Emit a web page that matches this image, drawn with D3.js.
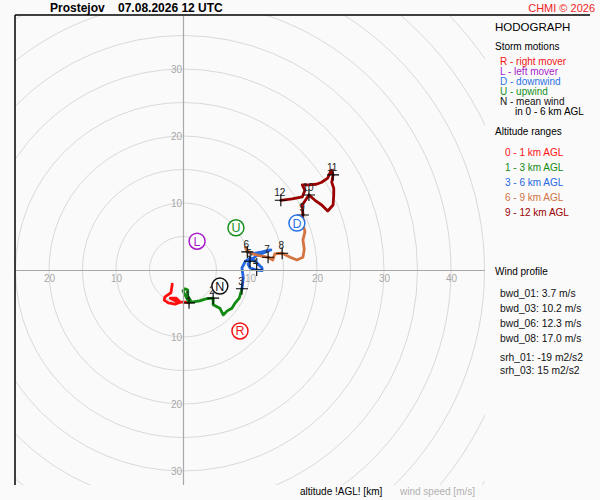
<!DOCTYPE html>
<html>
<head>
<meta charset="utf-8">
<script src="https://cdn.jsdelivr.net/npm/d3@7"></script>
<style>
  body { margin: 0; background: #fafafa; }
  svg { font-family: "Liberation Sans", Arial, sans-serif; display: block; }
</style>
</head>
<body>
<div class="hodo"></div>
<script>
// hodograph traces, [u, v] in m/s, one array per altitude range
const layer0_1 = [[-1.6,-2.1],[-1.8,-3.4],[-2.7,-4.0],[-2.8,-4.5],[-2.2,-4.9],[-1.2,-5.1],[-0.4,-4.8],[-1.0,-4.2],[-1.9,-4.2],[-0.7,-4.8],[0.3,-4.8],[0.9,-4.9]];
const layer1_3 = [[0.9,-4.9],[0.4,-3.9],[0.0,-3.1],[0.3,-2.8],[0.7,-3.0],[0.7,-3.9],[1.3,-4.8],[2.5,-4.6],[3.4,-4.3],[4.5,-4.2],[4.5,-5.2],[5.5,-5.7],[6.0,-6.7],[6.6,-6.1],[7.3,-5.7],[7.8,-4.9],[8.4,-4.2],[8.8,-2.8]];
const layer3_6 = [[8.8,-2.8],[9.0,-1.2],[8.8,0.3],[9.3,1.3],[10.1,1.8],[10.9,1.2],[11.8,0.3],[11.8,-0.1],[11.0,0.0],[10.0,0.3],[9.7,0.9],[10.0,1.3],[10.9,2.1],[11.9,2.5],[13.1,3.0],[11.8,2.7],[10.3,2.4],[9.6,2.7]];
const layer6_9 = [[9.6,2.7],[9.3,3.4],[10.0,2.5],[11.2,2.2],[12.7,1.9],[13.4,1.5],[13.7,2.4],[14.8,2.5],[16.0,1.9],[17.0,1.5],[17.9,1.9],[18.1,3.1],[17.9,4.5],[18.2,5.7],[17.9,6.9],[17.9,8.2]];
const layer9_12 = [[17.9,8.2],[17.8,9.7],[18.4,10.6],[18.8,11.2],[19.7,10.4],[20.7,9.7],[21.6,8.8],[22.4,9.7],[22.5,11.2],[22.5,12.2],[22.2,13.1],[22.4,14.2],[22.1,14.9],[21.6,13.7],[20.7,13.1],[19.9,12.8],[18.7,12.7],[17.8,12.7],[18.2,11.9],[17.8,10.9],[16.3,10.6],[14.6,10.4]];

// altitude marks (km AGL)
const altKm = [1,2,3,4,5,6,7,8,9,10,11,12];
const altU = [0.9,4.5,8.8,11.0,10.0,9.6,12.7,14.8,17.9,18.8,22.4,14.6];
const altV = [-4.9,-4.2,-2.8,0.0,1.3,2.7,1.9,2.5,8.2,11.2,14.2,10.4];

// storm motions
const stormKeys = ["R","L","D","U","N"];
const stormU = [8.5,2.1,17.0,7.9,5.5];
const stormV = [-9.1,4.3,7.0,6.3,-2.4];
const stormNames = ["right mover","left mover","downwind","upwind","mean wind"];
const stormColors = ["#f01414","#a81cc8","#2a72e4","#14901a","#111111"];

const rangeNames = ["0 - 1 km AGL","1 - 3 km AGL","3 - 6 km AGL","6 - 9 km AGL","9 - 12 km AGL"];
const rangeColors = ["#ff1010","#128a12","#2266e0","#d3733f","#9a0000"];

const ringSpeeds = [5,10,15,20,25,30,35,40,45,50,55,60];
const xTicks = [-20,-10,10,20,30,40];
const yTicks = [-30,-20,-10,10,20,30];

const profileLines = ["bwd_01: 3.7 m/s","bwd_03: 10.2 m/s","bwd_06: 12.3 m/s","bwd_08: 17.0 m/s"];
const srhLines = ["srh_01: -19 m2/s2","srh_03: 15 m2/s2"];

const width = 600, height = 500;

const svg = d3.select(".hodo").append("svg")
  .attr("width", width)
  .attr("height", height);

svg.append("rect").attr("width", width).attr("height", height).attr("fill", "#fafafa");

let x = d3.scaleLinear().domain([-25, 45]).range([15.5, 484.5]);
let y = d3.scaleLinear().domain([38, -32]).range([15.4, 484.4]);
let r = d3.scaleLinear().domain([0, 10]).range([0, 67]);

svg.append("clipPath").attr("id", "plotclip")
  .append("rect").attr("x", 15).attr("y", 15).attr("width", 470).attr("height", 470);

const plot = svg.append("g").attr("clip-path", "url(#plotclip)");

// speed rings
plot.selectAll(".ring").data(ringSpeeds).enter()
  .append("circle")
  .attr("class", "ring")
  .attr("cx", x(0)).attr("cy", y(0))
  .attr("r", d => r(d))
  .attr("fill", "none")
  .attr("stroke", "#d9d9d9")
  .attr("stroke-width", 1);

// axes through origin
const xAxis = d3.axisBottom(x).tickValues(xTicks).tickFormat(d => Math.abs(d)).tickSize(0).tickPadding(5);
const yAxis = d3.axisLeft(y).tickValues(yTicks).tickFormat(d => Math.abs(d)).tickSize(0).tickPadding(1);

svg.append("g").attr("class", "axis x-axis")
  .attr("transform", "translate(0," + y(0) + ")").call(xAxis);
svg.append("g").attr("class", "axis y-axis")
  .attr("transform", "translate(" + x(0) + ",0)").call(yAxis);

svg.selectAll(".axis path").attr("stroke", "#a8a8a8").attr("stroke-width", 1.2);
svg.selectAll(".axis text").attr("fill", "#a8a8a8").attr("font-size", 10)
  .attr("font-family", "Liberation Sans, Arial, sans-serif");

// frame
svg.append("line").attr("x1", 15).attr("x2", 15).attr("y1", 15).attr("y2", 485).attr("stroke", "#000").attr("stroke-width", 1.5);
svg.append("line").attr("x1", 15).attr("x2", 590).attr("y1", 15).attr("y2", 15).attr("stroke", "#000").attr("stroke-width", 1.5);

// hodograph traces
const line = d3.line().x(d => x(d[0])).y(d => y(d[1]));
const layers = [layer0_1, layer1_3, layer3_6, layer6_9, layer9_12];

plot.selectAll(".trace").data(layers).enter()
  .append("path")
  .attr("class", "trace")
  .attr("d", line)
  .attr("fill", "none")
  .attr("stroke", (d, i) => rangeColors[i])
  .attr("stroke-width", 2.8)
  .attr("stroke-linejoin", "round")
  .attr("stroke-linecap", "round");

// altitude crosses and labels
const marks = altKm.map((k, i) => ({ k: k, u: altU[i], v: altV[i] }));

plot.selectAll(".cross").data(marks).enter()
  .append("path")
  .attr("class", "cross")
  .attr("d", d => "M" + (x(d.u) - 6) + "," + y(d.v) + "H" + (x(d.u) + 6) + "M" + x(d.u) + "," + (y(d.v) - 6) + "V" + (y(d.v) + 6))
  .attr("stroke", "#000")
  .attr("stroke-width", 1.1);

plot.selectAll(".altlabel").data(marks).enter()
  .append("text")
  .attr("class", "altlabel")
  .attr("x", d => x(d.u) - 1)
  .attr("y", d => y(d.v) - 4)
  .attr("text-anchor", "middle")
  .attr("font-size", 10)
  .attr("fill", "#222")
  .text(d => d.k);

// storm motion markers
const storms = stormKeys.map((k, i) => ({ k: k, u: stormU[i], v: stormV[i], c: stormColors[i] }));

const sm = plot.selectAll(".storm").data(storms).enter()
  .append("g").attr("class", "storm")
  .attr("transform", d => "translate(" + x(d.u) + "," + y(d.v) + ")");
sm.append("circle").attr("r", 8).attr("fill", "#fff").attr("stroke", d => d.c).attr("stroke-width", 1.5);
sm.append("text").attr("text-anchor", "middle").attr("dy", "0.36em")
  .attr("font-size", 12.5).attr("fill", d => d.c).text(d => d.k);

// title
svg.append("text").attr("x", 50).attr("y", 12).attr("font-size", 12).attr("font-weight", "bold")
  .attr("xml:space", "preserve").text("Prostejov    07.08.2026 12 UTC");
svg.append("text").attr("x", 595).attr("y", 12).attr("text-anchor", "end")
  .attr("font-size", 11).attr("fill", "#ee1c25").text("CHMI © 2026");

// right panel
const panel = svg.append("g").attr("transform", "translate(495,0)");
panel.append("text").attr("y", 31).attr("font-size", 11.5).text("HODOGRAPH");
panel.append("text").attr("y", 50).attr("font-size", 10).text("Storm motions");

panel.selectAll(".sleg").data(storms).enter()
  .append("text").attr("class", "sleg")
  .attr("x", 5).attr("y", (d, i) => 65 + i * 10)
  .attr("font-size", 10).attr("fill", d => d.c)
  .text((d, i) => d.k + " - " + stormNames[i]);
panel.append("text").attr("x", 20).attr("y", 115).attr("font-size", 10).text("in 0 - 6 km AGL");

panel.append("text").attr("y", 135).attr("font-size", 10).text("Altitude ranges");
panel.selectAll(".rleg").data(rangeNames).enter()
  .append("text").attr("class", "rleg")
  .attr("x", 10).attr("y", (d, i) => 156 + i * 15)
  .attr("font-size", 10).attr("fill", (d, i) => rangeColors[i])
  .text(d => d);

panel.append("text").attr("y", 275).attr("font-size", 10).text("Wind profile");
panel.selectAll(".bwd").data(profileLines).enter()
  .append("text").attr("class", "bwd")
  .attr("x", 5).attr("y", (d, i) => 297 + i * 15)
  .attr("font-size", 10.3).attr("fill", "#111").text(d => d);
panel.selectAll(".srh").data(srhLines).enter()
  .append("text").attr("class", "srh")
  .attr("x", 5).attr("y", (d, i) => 361 + i * 12.5)
  .attr("font-size", 10.3).attr("fill", "#111").text(d => d);

// bottom captions
svg.append("text").attr("x", 300).attr("y", 495).attr("font-size", 10).text("altitude !AGL! [km]");
svg.append("text").attr("x", 400).attr("y", 495).attr("font-size", 10).attr("fill", "#b0b0b0").text("wind speed [m/s]");
</script>
</body>
</html>
